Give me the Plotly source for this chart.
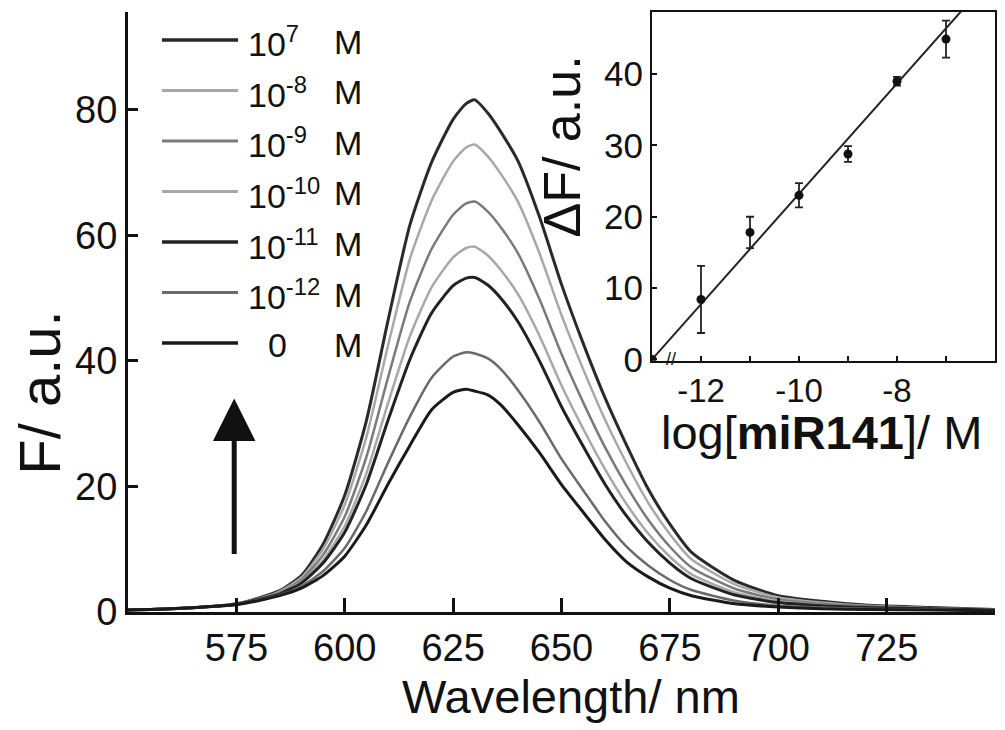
import plotly.graph_objects as go

# ---------------- data ----------------
wavelength = [550, 560, 570, 575, 580, 585, 590, 595, 600, 605, 610, 615, 620, 625, 628, 630,
              633, 636, 640, 645, 650, 655, 660, 665, 670, 675, 680, 690, 700, 710, 720, 735, 750]

F_1e7 = [0.3, 0.5, 0.9, 1.3, 2.2, 3.4, 5.8, 10.8, 18.6, 30.5, 46.5, 61.6, 71.6, 78.5, 81.0, 81.6,
         79.5, 76.5, 71.8, 62.8, 52.2, 42.8, 34.2, 26.6, 19.6, 14.0, 9.5, 5.0, 2.6, 1.7, 1.1, 0.7, 0.4]
F_1e8 = [0.3, 0.5, 0.9, 1.3, 2.1, 3.3, 5.5, 10.0, 17.1, 27.9, 42.5, 56.2, 65.5, 71.8, 74.0, 74.5,
         72.6, 69.8, 65.3, 57.0, 47.3, 38.7, 30.7, 23.7, 17.4, 12.4, 8.4, 4.4, 2.3, 1.5, 1.0, 0.6, 0.4]
F_1e9 = [0.3, 0.5, 0.9, 1.3, 2.1, 3.1, 5.1, 9.1, 15.2, 24.7, 37.4, 49.4, 57.8, 63.3, 65.1, 65.4,
         63.8, 61.3, 57.1, 49.7, 41.1, 33.4, 26.3, 20.1, 14.7, 10.4, 7.1, 3.7, 2.0, 1.3, 0.9, 0.6, 0.3]
F_1e10 = [0.3, 0.5, 0.9, 1.3, 2.0, 3.0, 4.8, 8.3, 13.7, 22.1, 33.3, 43.9, 51.7, 56.5, 58.0, 58.2,
          56.8, 54.5, 50.6, 43.9, 36.1, 29.2, 22.8, 17.2, 12.5, 8.8, 6.0, 3.1, 1.7, 1.1, 0.7, 0.5, 0.3]
F_1e11 = [0.3, 0.5, 0.9, 1.2, 2.0, 2.9, 4.6, 7.8, 12.7, 20.4, 30.6, 40.2, 47.6, 52.0, 53.2, 53.3,
          52.1, 50.0, 46.2, 39.9, 32.7, 26.4, 20.4, 15.3, 11.1, 7.8, 5.3, 2.7, 1.5, 1.0, 0.7, 0.5, 0.3]
F_1e12 = [0.3, 0.5, 0.9, 1.2, 1.9, 2.7, 4.1, 6.5, 10.2, 16.1, 23.8, 31.1, 37.3, 40.7, 41.4, 41.2,
          40.4, 38.7, 35.3, 30.2, 24.4, 19.4, 14.5, 10.4, 7.4, 5.1, 3.5, 1.8, 1.0, 0.7, 0.5, 0.4, 0.2]
F_blank = [0.3, 0.5, 0.9, 1.2, 1.8, 2.6, 3.8, 5.8, 8.9, 13.9, 20.4, 26.5, 32.2, 35.0, 35.5, 35.2,
           34.6, 33.0, 29.8, 25.3, 20.3, 15.9, 11.6, 8.0, 5.6, 3.8, 2.6, 1.3, 0.8, 0.5, 0.4, 0.3, 0.2]

series_labels = ["10<sup>7</sup>", "10<sup>-8</sup>", "10<sup>-9</sup>", "10<sup>-10</sup>",
                 "10<sup>-11</sup>", "10<sup>-12</sup>", "0"]
series_values = [F_1e7, F_1e8, F_1e9, F_1e10, F_1e11, F_1e12, F_blank]
series_colors = ["#2a2a2a", "#a8a8a8", "#7a7a7a", "#a8a8a8", "#222222", "#6a6a6a", "#1a1a1a"]
series_widths = [3, 2.5, 2.5, 2.5, 3, 2.5, 3]

x_tick_vals = [575, 600, 625, 650, 675, 700, 725, 750]
x_tick_text = ["575", "600", "625", "650", "675", "700", "725", " "]
y_tick_vals = [0, 20, 40, 60, 80]

# inset calibration
log_conc = [-13, -12, -11, -10, -9, -8, -7]
delta_F = [0.0, 8.4, 17.8, 23.0, 28.8, 39.0, 44.9]
delta_F_err = [0.0, 4.7, 2.2, 1.7, 1.1, 0.6, 2.6]
fit_x = [-13, -6.6]
fit_y = [0.0, 49.5]
inset_x_ticks = [-12, -11, -10, -9, -8, -7, -6]
inset_x_text = ["-12", " ", "-10", " ", "-8", " ", "-6"]
inset_y_ticks = [0, 10, 20, 30, 40]

# ---------------- layout helpers ----------------
# the page body has an 8 px margin: figure coords = page coords - 8
OFF = 8
W, H = 1005 - OFF, 730 - OFF
ML, MR, MT, MB = 128 - OFF, W - (995 - OFF), 10 - OFF, H - (612 - OFF)
PW, PH = W - ML - MR, H - MT - MB


def px(xp):  # page x -> paper
    return (xp - OFF - ML) / PW


def py(yp):  # page y -> paper
    return (H - MB - (yp - OFF)) / PH


FONT = "Liberation Sans, Arial, sans-serif"

fig = go.Figure()

for vals, col, wd in zip(series_values, series_colors, series_widths):
    fig.add_trace(go.Scatter(x=wavelength, y=vals, mode="lines",
                             line=dict(color=col, width=wd, shape="spline", smoothing=0.6),
                             showlegend=False, xaxis="x", yaxis="y"))

# inset
fig.add_trace(go.Scatter(x=fit_x, y=fit_y, mode="lines", line=dict(color="#222", width=2),
                         showlegend=False, xaxis="x2", yaxis="y2"))
fig.add_trace(go.Scatter(x=log_conc, y=delta_F, mode="markers",
                         marker=dict(color="#111", size=9),
                         error_y=dict(type="data", array=delta_F_err, color="#222",
                                      thickness=1.8, width=4),
                         showlegend=False, xaxis="x2", yaxis="y2"))

annotations = []
shapes = []

# legend (manual)
row_y0, row_dy = 38, 50.7
for i, (lab, col, wd) in enumerate(zip(series_labels, series_colors, series_widths)):
    yp = row_y0 + row_dy * i
    shapes.append(dict(type="line", xref="paper", yref="paper", x0=px(162), x1=px(238),
                       y0=py(yp), y1=py(yp), line=dict(color=col, width=wd + 0.5)))
    xl = 266 if lab == "0" else 246
    annotations.append(dict(text=lab, xref="paper", yref="paper", x=px(xl), y=py(yp + 2),
                            xanchor="left", yanchor="middle", showarrow=False,
                            font=dict(family=FONT, size=34, color="#111")))
    annotations.append(dict(text="M", xref="paper", yref="paper", x=px(332), y=py(yp + 2),
                            xanchor="left", yanchor="middle", showarrow=False,
                            font=dict(family=FONT, size=34, color="#111")))

# arrow
annotations.append(dict(x=574.5, y=34.0, ax=574.5, ay=9.0, xref="x", yref="y", axref="x", ayref="y",
                        text="", showarrow=True, arrowhead=2, arrowsize=1.7, arrowwidth=5,
                        arrowcolor="#111"))

# axis titles
annotations.append(dict(text="Wavelength/ nm", xref="paper", yref="paper", x=px(571), y=py(697),
                        xanchor="center", yanchor="middle", showarrow=False,
                        font=dict(family=FONT, size=47, color="#111")))
annotations.append(dict(text="F/ a.u.", xref="paper", yref="paper", x=px(40), y=py(392),
                        xanchor="center", yanchor="middle", showarrow=False, textangle=-90,
                        font=dict(family=FONT, size=58, color="#111")))
annotations.append(dict(text="ΔF/ a.u.", xref="paper", yref="paper", x=px(562), y=py(145),
                        xanchor="center", yanchor="middle", showarrow=False, textangle=-90,
                        font=dict(family=FONT, size=52, color="#111")))
annotations.append(dict(text="log[<b>miR141</b>]/ M", xref="paper", yref="paper", x=px(821), y=py(432),
                        xanchor="center", yanchor="middle", showarrow=False,
                        font=dict(family=FONT, size=47, color="#111")))
# axis break marks on inset
annotations.append(dict(text="//", xref="x2", yref="y2", x=-12.62, y=0, xanchor="center",
                        yanchor="middle", showarrow=False,
                        font=dict(family=FONT, size=18, color="#111")))

fig.update_layout(
    width=W, height=H,
    margin=dict(l=ML, r=MR, t=MT, b=MB),
    paper_bgcolor="white", plot_bgcolor="white",
    xaxis=dict(domain=[0, 1], range=[550, 750], showline=True, linewidth=3, linecolor="#111",
               ticks="inside", ticklen=14, tickwidth=2.5, tickcolor="#111",
               tickvals=x_tick_vals, ticktext=x_tick_text, showgrid=False, zeroline=False,
               tickfont=dict(family=FONT, size=38, color="#111"), anchor="y"),
    yaxis=dict(domain=[0, 1], range=[0, 95.6], showline=True, linewidth=3, linecolor="#111",
               ticks="inside", ticklen=10, tickwidth=2.5, tickcolor="#111",
               tickvals=y_tick_vals, showgrid=False, zeroline=False,
               tickfont=dict(family=FONT, size=38, color="#111"), anchor="x"),
    xaxis2=dict(domain=[px(652), 1.0], range=[-13, -6], showline=True, mirror=True, linewidth=2,
                linecolor="#111", ticks="inside", ticklen=5, tickwidth=1.5, tickcolor="#111",
                tickvals=inset_x_ticks, ticktext=inset_x_text, showgrid=False, zeroline=False,
                tickfont=dict(family=FONT, size=33, color="#111"), anchor="y2"),
    yaxis2=dict(domain=[py(360), 1.0], range=[-0.2, 48.7], showline=True, mirror=True, linewidth=2,
                linecolor="#111", ticks="inside", ticklen=5, tickwidth=1.5, tickcolor="#111",
                tickvals=inset_y_ticks, showgrid=False, zeroline=False,
                tickfont=dict(family=FONT, size=35, color="#111"), anchor="x2"),
    annotations=annotations,
    shapes=shapes,
)

fig.write_html("out.html")
